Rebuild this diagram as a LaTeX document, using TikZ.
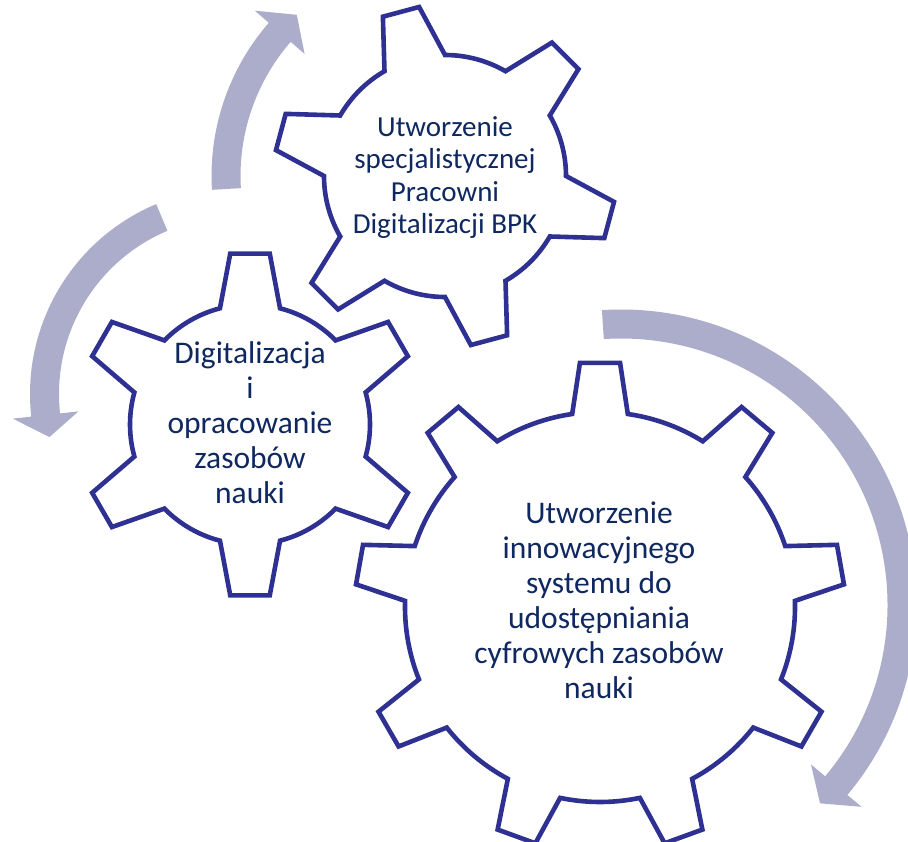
\documentclass[tikz,border=0pt]{standalone}
\usepackage{fontspec}
\setmainfont{Carlito}
\definecolor{gearblue}{RGB}{46,49,146}
\definecolor{arrowgray}{RGB}{172,173,202}
\definecolor{textnavy}{RGB}{15,40,95}
\tikzset{
  gearline/.style={draw=gearblue, line width=4.6pt, fill=white, line join=miter},
  arrowfill/.style={fill=arrowgray, draw=none},
  geartext/.style={text=textnavy, align=center, inner sep=0pt, anchor=base},
}
% #1 cx, #2 cy, #3 n, #4 offset, #5 r (root), #6 R (tip), #7 tip half-angle, #8 base half-angle
\newcommand\drawgear[8]{%
  \begin{scope}[shift={(#1pt,#2pt)}]
    \pgfmathsetmacro\gstep{360/#3}
    \draw[gearline] ({#4-#8}:#5pt)
      \foreach \k [evaluate=\k as \ga using {#4+(\k-1)*\gstep}] in {1,...,#3}{
        -- ({\ga-#7}:#6pt) -- ({\ga+#7}:#6pt) -- ({\ga+#8}:#5pt)
        arc[start angle={\ga+#8}, end angle={\ga+\gstep-#8}, radius=#5pt]
      } -- cycle;
  \end{scope}}
\begin{document}
\begin{tikzpicture}[x=1pt,y=1pt]
\useasboundingbox (0,0) rectangle (908,-842);
\begin{scope}
\clip (0,0) rectangle (908,-842);
% gears
\drawgear{445}{-176}{6}{45}{121}{171}{6.3}{15}
\drawgear{250}{-424.5}{6}{30}{120}{172}{6.6}{14.5}
\drawgear{600}{-607}{9}{90}{195}{245}{4.7}{8.2}
% arrows
\begin{scope}[shift={(445pt,-176pt)}]
  \fill[arrowfill] (183.4:233.5pt) arc[start angle=183.4, end angle=139, radius=233.5pt]
    -- (139:252pt) -- (132.6:219pt) -- (139:186pt) -- (139:204.5pt)
    arc[start angle=139, end angle=183.4, radius=204.5pt] -- cycle;
\end{scope}
\begin{scope}[shift={(236pt,-394pt)}]
  \fill[arrowfill] (112.8:206pt) arc[start angle=112.8, end angle=186.3, radius=206pt]
    -- (186.3:224.5pt) -- (193:191.5pt) -- (186.3:158.5pt) -- (186.3:177pt)
    arc[start angle=186.3, end angle=112.8, radius=177pt] -- cycle;
\end{scope}
\begin{scope}[shift={(621pt,-605pt)}]
  \fill[arrowfill] (93.7:295.5pt) arc[start angle=93.7, end angle=-40, radius=295.5pt]
    -- (-40:314pt) -- (-44.9:281pt) -- (-40:248pt) -- (-40:266.5pt)
    arc[start angle=-40, end angle=93.7, radius=266.5pt] -- cycle;
\end{scope}
\end{scope}
% texts (anchor base = baseline of last line)
\node[geartext, font=\fontsize{29}{32.3}\selectfont] (t1) at (445,-233.5)
  {Utworzenie\\specjalistycznej\\Pracowni\\Digitalizacji BPK};
\node[geartext, font=\fontsize{31.5}{35}\selectfont] (t2) at (250,-503)
  {Digitalizacja\\i\\opracowanie\\zasobów\\nauki};
\node[geartext, font=\fontsize{31.5}{35}\selectfont] (t3) at (599,-698)
  {Utworzenie\\innowacyjnego\\systemu do\\udostępniania\\cyfrowych zasobów\\nauki};
\end{tikzpicture}
\end{document}
